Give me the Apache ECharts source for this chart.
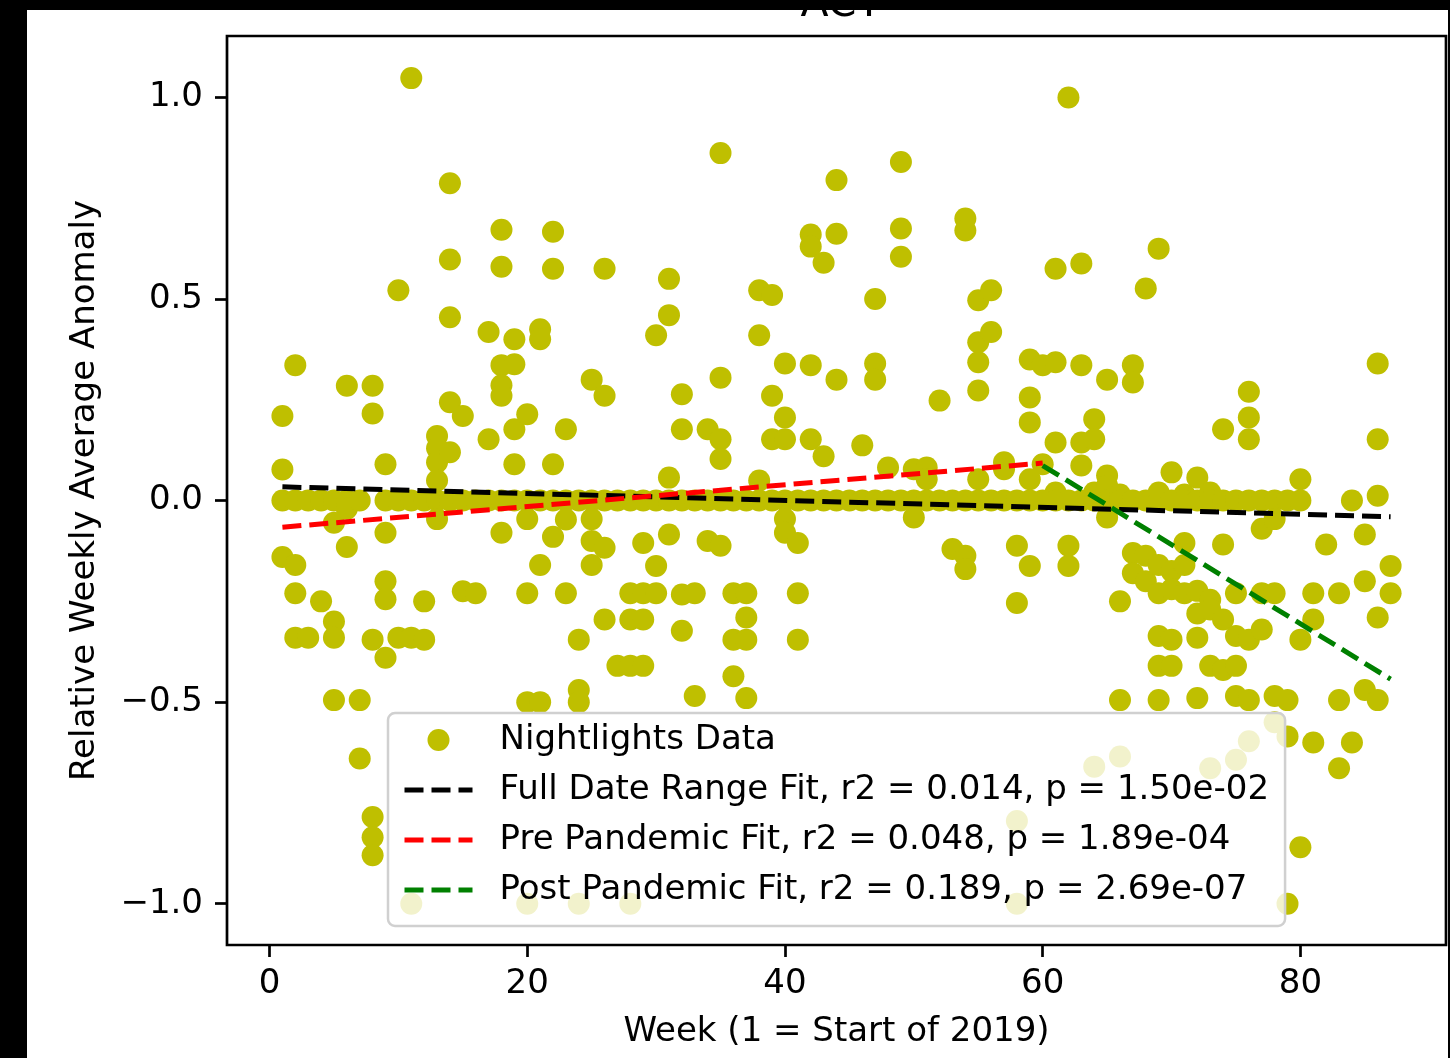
<!DOCTYPE html>
<html>
<head>
<meta charset="utf-8">
<script src="https://cdn.jsdelivr.net/npm/echarts@6/dist/echarts.min.js"></script>
<style>
html,body{margin:0;padding:0;background:#fff;}
#chart{width:1450px;height:1058px;}
</style>
</head>
<body>
<div id="chart"></div>
<script>
// ---- data ----
const weeks = [];
for (let w = 1; w <= 87; w++) weeks.push(w);

// Relative weekly average anomaly values for each week (index 0 = week 1)
const anomalyByWeek = [
  [0.21, 0.077, 0.0, -0.14],
  [0.336, 0.0, -0.16, -0.23, -0.34],
  [0.0, -0.34],
  [0.0, -0.25],
  [0.0, -0.055, -0.30, -0.34, -0.495],
  [0.285, 0.0, -0.115, -0.02],
  [0.0, -0.495, -0.64],
  [0.285, 0.216, -0.345, -0.785, -0.835, -0.88],
  [0.09, 0.0, -0.08, -0.2, -0.245, -0.39],
  [0.522, 0.0, -0.34],
  [1.048, 0.0, -0.34, -1.0],
  [0.0, -0.25, -0.345],
  [0.16, 0.13, 0.095, 0.05, 0.0, -0.046],
  [0.787, 0.598, 0.455, 0.244, 0.12, 0.0],
  [0.21, 0.0, -0.225],
  [0.0, -0.23],
  [0.418, 0.152, 0.0],
  [0.672, 0.58, 0.336, 0.286, 0.26, 0.0, -0.08],
  [0.40, 0.338, 0.177, 0.09, 0.0],
  [0.214, 0.0, -0.046, -0.23, -0.5, -1.0],
  [0.425, 0.40, 0.0, -0.16, -0.5],
  [0.667, 0.575, 0.09, 0.0, -0.09],
  [0.177, 0.0, -0.047, -0.23],
  [0.0, -0.345, -0.47, -0.5, -1.0],
  [0.30, 0.0, -0.046, -0.1, -0.16],
  [0.575, 0.26, 0.0, -0.117, -0.295],
  [0.0, -0.41],
  [0.0, -0.23, -0.295, -0.41, -1.0],
  [0.0, -0.105, -0.23, -0.295, -0.41],
  [0.41, 0.0, -0.162, -0.23],
  [0.55, 0.46, 0.057, 0.0, -0.084],
  [0.264, 0.177, 0.0, -0.233, -0.323],
  [0.0, -0.23, -0.485],
  [0.177, 0.0, -0.1],
  [0.862, 0.305, 0.152, 0.103, 0.0, -0.112],
  [0.0, -0.23, -0.345, -0.436],
  [0.0, -0.23, -0.29, -0.345, -0.49],
  [0.522, 0.41, 0.05, 0.0],
  [0.51, 0.26, 0.152, 0.0],
  [0.34, 0.206, 0.152, 0.0, -0.046, -0.08],
  [0.0, -0.105, -0.23, -0.345],
  [0.66, 0.63, 0.336, 0.152, 0.0],
  [0.59, 0.11, 0.0],
  [0.795, 0.662, 0.30, 0.0],
  [0.0],
  [0.137, 0.0],
  [0.50, 0.34, 0.30, 0.0],
  [0.082, 0.0],
  [0.84, 0.675, 0.605, 0.0],
  [0.078, 0.0, -0.042],
  [0.082, 0.053, 0.0],
  [0.248, 0.0],
  [0.0, -0.12],
  [0.70, 0.67, 0.0, -0.137, -0.17],
  [0.497, 0.393, 0.343, 0.273, 0.053, 0.0],
  [0.522, 0.418, 0.0],
  [0.095, 0.078, 0.0],
  [0.0, -0.112, -0.254, -0.795, -1.0],
  [0.35, 0.256, 0.194, 0.053, 0.0, -0.162],
  [0.336, 0.09, 0.0],
  [0.575, 0.343, 0.144, 0.02, 0.0],
  [1.0, 0.0, -0.112, -0.162],
  [0.588, 0.336, 0.144, 0.087, 0.0],
  [0.202, 0.152, 0.02, 0.0, -0.66],
  [0.30, 0.062, 0.037, 0.0, -0.042],
  [0.015, 0.0, -0.25, -0.495, -0.635],
  [0.336, 0.293, 0.0, -0.13, -0.18],
  [0.526, 0.0, -0.137, -0.2],
  [0.625, 0.02, 0.0, -0.16, -0.23, -0.336, -0.41, -0.495],
  [0.07, 0.0, -0.175, -0.22, -0.345, -0.41],
  [0.015, 0.0, -0.105, -0.16, -0.23],
  [0.057, 0.0, -0.224, -0.28, -0.34, -0.49],
  [0.02, 0.0, -0.246, -0.27, -0.41, -0.664],
  [0.177, 0.0, -0.109, -0.295, -0.42],
  [0.0, -0.23, -0.336, -0.41, -0.485, -0.643],
  [0.27, 0.206, 0.152, 0.0, -0.345, -0.495, -0.597],
  [0.0, -0.07, -0.23, -0.32],
  [0.0, -0.046, -0.23, -0.485, -0.55],
  [0.0, -0.495, -0.585, -1.0],
  [0.053, 0.0, -0.345, -0.86],
  [-0.23, -0.295, -0.60],
  [-0.109],
  [-0.23, -0.495, -0.664],
  [0.0, -0.60],
  [-0.084, -0.2, -0.47],
  [0.34, 0.152, 0.012, -0.29, -0.495],
  [-0.162, -0.23]
];

// Fit line end points [week, value]
const fullFit = [[1, 0.034], [87, -0.040]];
const preFit  = [[1, -0.066], [60, 0.093]];
const postFit = [[60, 0.087], [87, -0.443]];

const seriesNames = [
  'Nightlights Data',
  'Full Date Range Fit, r2 = 0.014, p = 1.50e-02',
  'Pre Pandemic Fit, r2 = 0.048, p = 1.89e-04',
  'Post Pandemic Fit, r2 = 0.189, p = 2.69e-07'
];
const lineColors = ['#000000', '#ff0000', '#008000'];

const xTicks = [0, 20, 40, 60, 80];
const yTicks = [-1.0, -0.5, 0.0, 0.5, 1.0];

// ---- build ----
const points = [];
weeks.forEach((w, i) => {
  (anomalyByWeek[i] || []).forEach(v => points.push([w, v]));
});

const FONT = 'DejaVu Sans';
const DASH = [19, 8];
const chart = echarts.init(document.getElementById('chart'), null, {renderer: 'canvas'});

const fmtY = v => (v < 0 ? '\u2212' : '') + Math.abs(v).toFixed(1);

const fits = [fullFit, preFit, postFit];
const lineSeries = fits.map((d, i) => ({
  name: seriesNames[i + 1], type: 'line', data: d, showSymbol: false, symbol: 'none',
  lineStyle: {color: lineColors[i], width: 5, type: DASH},
  itemStyle: {color: lineColors[i]}
}));

const legendData = [{name: seriesNames[0], icon: 'circle'}].concat(
  lineColors.map((c, i) => ({
    name: seriesNames[i + 1],
    itemStyle: {color: 'rgba(0,0,0,0)', opacity: 0, borderWidth: 0},
    lineStyle: {color: c, width: 5, type: DASH, opacity: 1}
  }))
);

chart.setOption({
  animation: false,
  backgroundColor: '#ffffff',
  title: {
    text: 'ACT',
    left: 836,
    textAlign: 'center',
    top: -20,
    textStyle: {fontFamily: FONT, fontSize: 41, fontWeight: 'normal', color: '#000'}
  },
  grid: {
    left: 227, top: 36, width: 1219, height: 909,
    show: true, borderColor: '#000', borderWidth: 2.7, backgroundColor: '#fff'
  },
  xAxis: {
    type: 'value', min: -3.3, max: 91.3,
    name: 'Week (1 = Start of 2019)',
    nameLocation: 'middle', nameGap: 70,
    nameTextStyle: {fontFamily: FONT, fontSize: 34, color: '#000'},
    axisLine: {show: false, onZero: false},
    splitLine: {show: false},
    axisTick: {show: true, length: 12, lineStyle: {color: '#000', width: 2.7}, customValues: xTicks},
    axisLabel: {customValues: xTicks, margin: 22, fontFamily: FONT, fontSize: 34, color: '#000'}
  },
  yAxis: {
    type: 'value', min: -1.1025, max: 1.1525,
    name: 'Relative Weekly Average Anomaly',
    nameLocation: 'middle', nameGap: 125,
    nameTextStyle: {fontFamily: FONT, fontSize: 34, color: '#000'},
    axisLine: {show: false, onZero: false},
    splitLine: {show: false},
    axisTick: {show: true, length: 12, lineStyle: {color: '#000', width: 2.7}, customValues: yTicks},
    axisLabel: {customValues: yTicks, margin: 24, fontFamily: FONT, fontSize: 34, color: '#000', formatter: fmtY}
  },
  legend: {
    orient: 'vertical',
    left: 388, top: 713,
    padding: [10, 16, 19, 14],
    itemGap: 16,
    itemWidth: 68, itemHeight: 22,
    backgroundColor: 'rgba(255,255,255,0.8)',
    borderColor: '#d0d0d0', borderWidth: 2.5, borderRadius: 7,
    textStyle: {fontFamily: FONT, fontSize: 34, color: '#000', lineHeight: 34, padding: [0, 0, 0, 22]},
    data: legendData
  },
  series: [
    {
      name: seriesNames[0], type: 'scatter', data: points,
      symbol: 'circle', symbolSize: 22,
      itemStyle: {color: '#bfbf00', opacity: 1}
    }
  ].concat(lineSeries),
  graphic: [
    {type: 'rect', z: 100, shape: {x: 0, y: 0, width: 1450, height: 10}, style: {fill: '#000'}},
    {type: 'rect', z: 100, shape: {x: 0, y: 0, width: 27, height: 1058}, style: {fill: '#000'}},
    {type: 'rect', z: 100, shape: {x: 1448, y: 0, width: 2, height: 1058}, style: {fill: '#000'}}
  ]
});
</script>
</body>
</html>
